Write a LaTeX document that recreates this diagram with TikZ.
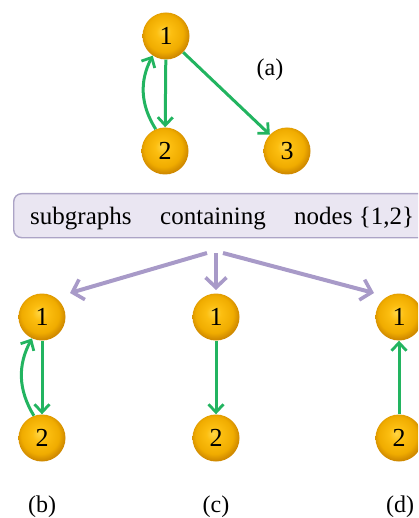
\documentclass[tikz,border=0pt]{standalone}
\usepackage{fontspec}
\setmainfont{Liberation Serif}
\usetikzlibrary{arrows.meta}
\definecolor{edgegreen}{RGB}{34,180,96}
\definecolor{boxfill}{RGB}{234,230,242}
\definecolor{boxline}{RGB}{172,164,198}
\definecolor{lav}{RGB}{168,154,200}
\definecolor{ghi}{RGB}{255,214,70}
\definecolor{gmid}{RGB}{252,190,16}
\definecolor{glow}{RGB}{240,172,0}
\definecolor{gdk}{RGB}{208,138,0}
\pgfdeclareradialshading{goldball}{\pgfpoint{-3bp}{5bp}}{color(0bp)=(ghi); color(8bp)=(gmid); color(20bp)=(glow); color(26bp)=(gdk); color(50bp)=(gdk)}
\tikzset{
  vtx/.style={circle, minimum size=47pt, inner sep=0pt, shading=goldball, font=\fontsize{26}{28}\selectfont},
  garrow/.style={draw=edgegreen, line width=3pt, -{Straight Barb[length=8pt,width=15pt,line width=2.8pt]}},
  parrow/.style={draw=lav, line width=4pt, -{Straight Barb[length=10pt,width=21pt,line width=3.6pt]}},
  lbl/.style={font=\fontsize{24}{26}\selectfont},
  boxtxt/.style={font=\fontsize{25}{27}\selectfont, anchor=base west, inner sep=0pt}
}
\begin{document}
\begin{tikzpicture}[x=1pt,y=-1pt]
\useasboundingbox (0,0) rectangle (418,518);
\clip (0,0) rectangle (418,518);
% top graph (a)
\node[vtx] (a1) at (166,36) {1};
\node[vtx] (a2) at (165,151) {2};
\node[vtx] (a3) at (287,151) {3};
\node[lbl] (la) at (270,70) {(a)};
\draw[garrow] (a1) -- (a2);
\draw[garrow] (a2.113) to[bend left=30] (a1.236);
\draw[garrow] (a1) -- (a3);
% box
\node[draw=boxline, line width=1.4pt, fill=boxfill, rounded corners=8pt, minimum width=425pt, minimum height=44pt, inner sep=0pt, anchor=north west] (box) at (13,193) {};
\node[boxtxt] (w1) at (30,225) {subgraphs};
\node[boxtxt] (w2) at (160,225) {containing};
\node[boxtxt] (w3) at (294,225) {nodes \{1,2\}};
% purple arrows
\coordinate (s1) at (207,253);
\coordinate (s2) at (216,253);
\coordinate (s3) at (223,253);
\coordinate (t1) at (70,293);
\coordinate (t2) at (216,290);
\coordinate (t3) at (374,293);
\draw[parrow] (s1) -- (t1);
\draw[parrow] (s2) -- (t2);
\draw[parrow] (s3) -- (t3);
% (b)
\node[vtx] (b1) at (42,317) {1};
\node[vtx] (b2) at (42,438) {2};
\draw[garrow] (b1) -- (b2);
\draw[garrow] (b2.110) to[bend left=30] (b1.245);
\node[lbl] (lb) at (42,507) {(b)};
% (c)
\node[vtx] (c1) at (216,317) {1};
\node[vtx] (c2) at (216,438) {2};
\draw[garrow] (c1) -- (c2);
\node[lbl] (lc) at (216,507) {(c)};
% (d)
\node[vtx] (d1) at (399,317) {1};
\node[vtx] (d2) at (399,438) {2};
\draw[garrow] (d2) -- (d1);
\node[lbl] (ld) at (400,507) {(d)};
\end{tikzpicture}
\end{document}
